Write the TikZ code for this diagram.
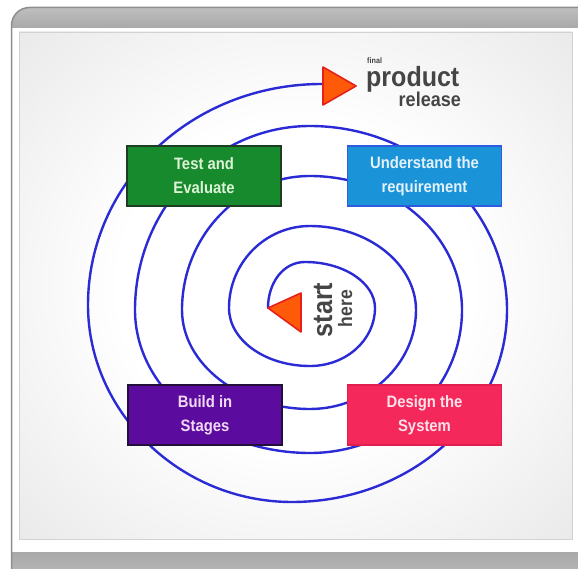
\documentclass[tikz,border=0pt]{standalone}
\usepackage{fontspec}
\setmainfont{Liberation Sans}
\newfontfamily\lblfont[FakeStretch=0.9]{Liberation Sans}
\definecolor{spiralblue}{HTML}{2B2BD6}
\definecolor{testgreen}{HTML}{178A2E}
\definecolor{testborder}{HTML}{1E3D22}
\definecolor{testtext}{HTML}{DDF3D6}
\definecolor{undblue}{HTML}{1A93D8}
\definecolor{undborder}{HTML}{2F5BE0}
\definecolor{undtext}{HTML}{E3F1FB}
\definecolor{buildpurple}{HTML}{5B0B9E}
\definecolor{buildborder}{HTML}{22103A}
\definecolor{buildtext}{HTML}{F1D9F5}
\definecolor{designpink}{HTML}{F5285C}
\definecolor{designborder}{HTML}{E21E4E}
\definecolor{designtext}{HTML}{FCE3EA}
\definecolor{triorange}{HTML}{FF5A0A}
\definecolor{trired}{HTML}{E8201A}
\definecolor{textgray}{HTML}{454545}
\definecolor{bandtop}{HTML}{C6C6C6}
\definecolor{bandbot}{HTML}{A9A9A9}
\definecolor{framegray}{HTML}{8E8E8E}
\definecolor{panelgray}{HTML}{DADADA}
\definecolor{paneledge}{HTML}{D2D2D2}
\pgfdeclareradialshading{panelshade}{\pgfpoint{0bp}{0bp}}{color(0bp)=(white); color(16bp)=(white); color(50bp)=(panelgray); color(72bp)=(panelgray)}
\begin{document}
\begin{tikzpicture}[x=1pt,y=-1pt,
  stage/.style={draw, line width=1.8pt, minimum width=154pt, minimum height=60pt,
    inner sep=0pt, align=center, font=\lblfont\bfseries\fontsize{16.5}{24}\selectfont},
  spiral/.style={draw=spiralblue, line width=2.4pt, line cap=round},
  tri/.style={fill=triorange, draw=trired, line width=1.6pt, line join=round},
  lbl/.style={text=textgray, inner sep=0pt}]
\useasboundingbox (0,0) rectangle (578,569);
% frame
\begin{scope}
\clip (0,0) rectangle (578,569);
\fill[white] (0,0) rectangle (578,569);
\begin{scope}
\clip[rounded corners=18pt] (11.5,7.5) rectangle (600,592);
\fill[white] (0,0) rectangle (600,600);
\shade[top color=bandtop, bottom color=bandbot] (0,0) rectangle (600,28);
\shade[top color=bandbot, bottom color=bandtop] (0,552) rectangle (600,600);
\end{scope}
\draw[framegray, line width=1.5pt, rounded corners=18pt] (11.5,7.5) rectangle (600,592);
\end{scope}
\shade[shading=panelshade] (19,32) rectangle (572,539);
\draw[paneledge, line width=0.6pt] (19,32) rectangle (572,539);
% spiral
\coordinate (spiralstart) at (268,308);
\coordinate (spiralend) at (322,84);
\draw[spiral] (spiralstart) .. controls (268,283) and (283,262) .. (305,262)
 .. controls (344,262) and (375,283) .. (375,308)
 .. controls (375,340) and (346,366) .. (310,366)
 .. controls (265,366) and (229,340) .. (229,308)
 .. controls (229,263) and (265,226) .. (310,226)
 .. controls (368,226) and (416,264) .. (416,310)
 .. controls (416,364) and (368,409) .. (310,409)
 .. controls (240,409) and (182,364) .. (182,310)
 .. controls (182,236) and (240,176) .. (310,176)
 .. controls (394,176) and (462,236) .. (462,310)
 .. controls (462,389) and (394,453) .. (310,453)
 .. controls (214,453) and (135,389) .. (135,310)
 .. controls (135,209) and (214,126) .. (310,126)
 .. controls (418,126) and (507,209) .. (507,310)
 .. controls (507,416) and (410,502) .. (292,502)
 .. controls (180,502) and (88,412) .. (88,305)
 .. controls (88,183) and (191,84) .. (spiralend);
% stages
\node[stage, fill=testgreen, draw=testborder, text=testtext] (test) at (204,176) {Test and\\Evaluate};
\node[stage, fill=undblue, draw=undborder, text=undtext] (understand) at (424.5,176) {Understand the\\requirement};
\node[stage, fill=buildpurple, draw=buildborder, text=buildtext] (build) at (205,415) {Build in\\Stages};
\node[stage, fill=designpink, draw=designborder, text=designtext] (design) at (424.5,415) {Design the\\System};
% triangles
\draw[tri] (323,67) -- (356,86) -- (323,105) -- cycle;
\draw[tri] (spiralstart) -- (301,293) -- (301,332) -- cycle;
% labels
\node[lbl, anchor=base west, font=\lblfont\bfseries\fontsize{8}{8}\selectfont] (final) at (367,64) {final};
\node[lbl, anchor=base west, font=\lblfont\bfseries\fontsize{27.8}{28}\selectfont] (product) at (366,87) {product};
\node[lbl, anchor=base east, font=\lblfont\bfseries\fontsize{20}{20}\selectfont] (release) at (461,107) {release};
\node[lbl, rotate=90, anchor=base, font=\lblfont\bfseries\fontsize{28}{28}\selectfont] (start) at (332,310) {start};
\node[lbl, rotate=90, anchor=base, font=\lblfont\bfseries\fontsize{19.5}{20}\selectfont] (here) at (352,308.5) {here};
\end{tikzpicture}
\end{document}
